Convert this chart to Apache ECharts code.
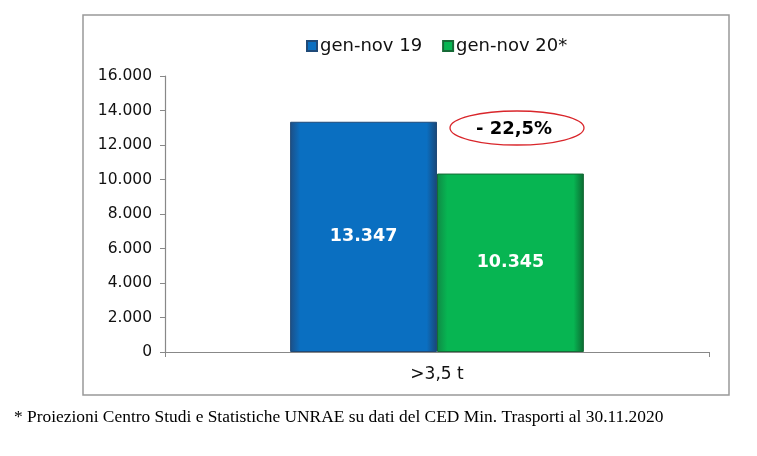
<!DOCTYPE html>
<html><head><meta charset="utf-8">
<script src="https://cdn.jsdelivr.net/npm/echarts@6/dist/echarts.min.js"></script>
<style>html,body{margin:0;padding:0;background:#fff}#c{width:757px;height:456px}</style>
</head><body><div id="c"></div>
<script>
const categories = ['>3,5 t'];
const seriesNames = ['gen-nov 19', 'gen-nov 20*'];
const values2019 = [13347];
const values2020 = [10345];
const yTicks = { min: 0, max: 16000, interval: 2000 };
const changeLabel = '- 22,5%';
const footnote = '* Proiezioni Centro Studi e Statistiche UNRAE su dati del CED Min. Trasporti al 30.11.2020';

const fmt = v => String(v).replace(/\B(?=(\d{3})+(?!\d))/g, '.');
const grad = (edge, mid, edge2) => new echarts.graphic.LinearGradient(0, 0, 1, 0, [
  {offset: 0, color: edge}, {offset: 0.07, color: mid}, {offset: 0.93, color: mid}, {offset: 1, color: edge2}
]);

const chart = echarts.init(document.getElementById('c'));
chart.setOption({
  animation: false,
  textStyle: { fontFamily: 'DejaVu Sans' },
  legend: {
    top: 32, left: 301, itemWidth: 10, itemHeight: 10, itemGap: 20,
    icon: 'rect',
    textStyle: { fontSize: 18, color: '#111', padding: [0, 0, 0, -2] },
    data: seriesNames
  },
  grid: { left: 165, right: 48, top: 76, bottom: 104 },
  xAxis: {
    type: 'category', data: categories,
    axisLine: { lineStyle: { color: '#888', width: 1.2 } },
    axisTick: { show: true, length: 5, lineStyle: { color: '#888' } },
    axisLabel: { fontSize: 17, color: '#111', margin: 14 }
  },
  yAxis: {
    type: 'value', min: yTicks.min, max: yTicks.max, interval: yTicks.interval,
    splitLine: { show: false },
    axisLine: { show: true, lineStyle: { color: '#888', width: 1.2 } },
    axisTick: { show: true, length: 5, lineStyle: { color: '#888' } },
    axisLabel: { fontSize: 15.5, color: '#111', margin: 13, formatter: v => fmt(v) }
  },
  series: [
    {
      name: seriesNames[0], type: 'bar', data: values2019, barGap: '0%', barCategoryGap: '46%',
      itemStyle: { color: grad('#1d4f86', '#0a6fc1', '#1a4676'), borderColor: '#1f4a78', borderWidth: 1 },
      label: { show: true, position: 'inside', color: '#fff', fontWeight: 'bold', fontSize: 17.5, formatter: p => fmt(p.value) }
    },
    {
      name: seriesNames[1], type: 'bar', data: values2020,
      itemStyle: { color: grad('#0f8a45', '#07b552', '#0c6a32'), borderColor: '#166a36', borderWidth: 1 },
      label: { show: true, position: 'inside', color: '#fff', fontWeight: 'bold', fontSize: 17.5, formatter: p => fmt(p.value) }
    }
  ],
  graphic: [
    { type: 'rect', shape: { x: 83, y: 15, width: 646, height: 380 }, style: { fill: 'none', stroke: '#999', lineWidth: 1.5 }, silent: true },
    { type: 'ellipse', shape: { cx: 517, cy: 128, rx: 67, ry: 17 }, style: { fill: 'none', stroke: '#d9262b', lineWidth: 1.3 } },
    { type: 'text', x: 514, y: 129, style: { text: changeLabel, fill: '#000', font: 'bold 18px "DejaVu Sans"', textAlign: 'center', textVerticalAlign: 'middle' } },
    { type: 'text', x: 14, y: 417, style: { text: footnote, fill: '#000', font: '17.4px "Liberation Serif"', textVerticalAlign: 'middle' } }
  ]
});
</script></body></html>
